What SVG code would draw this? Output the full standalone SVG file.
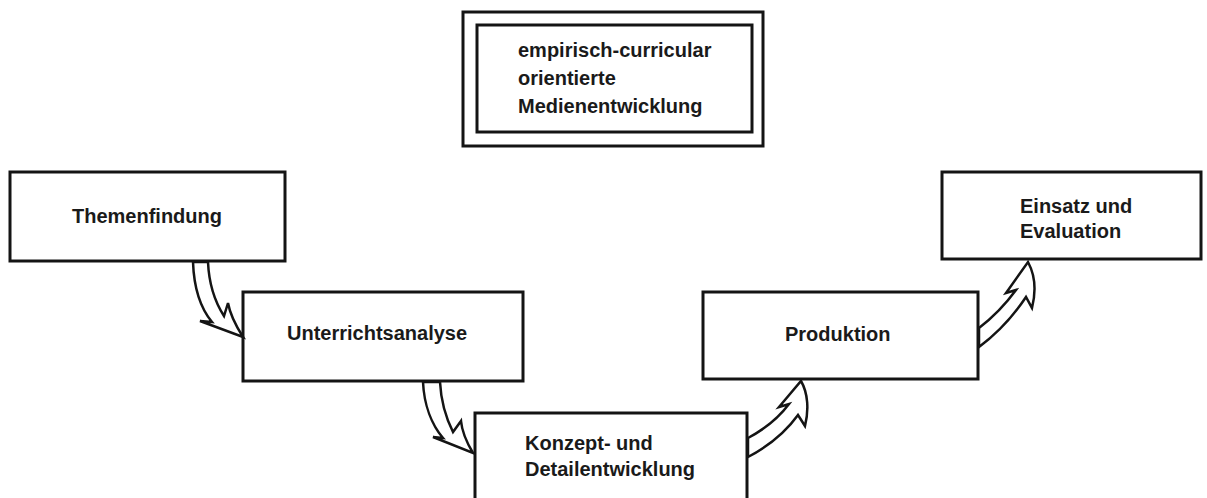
<svg xmlns="http://www.w3.org/2000/svg" width="1207" height="498" viewBox="0 0 1207 498">
<style>
.box{fill:#fff;stroke:#141414;stroke-width:3}
.t{font-family:"Liberation Sans",Arial,sans-serif;font-weight:bold;font-size:20px;fill:#1a1a1a}
.arr{fill:#fff;stroke:#141414;stroke-width:2.5;stroke-linejoin:miter}
</style>
<rect width="1207" height="498" fill="#fff"/>
<g id="title">
<rect class="box" x="463" y="12" width="300" height="134"/>
<rect class="box" x="477" y="25" width="275" height="107"/>
<text class="t" x="518" y="57">empirisch-curricular</text>
<text class="t" x="518" y="85">orientierte</text>
<text class="t" x="518" y="113">Medienentwicklung</text>
</g>
<g id="themenfindung">
<rect class="box" x="10" y="172" width="275" height="89"/>
<text class="t" x="72" y="223">Themenfindung</text>
</g>
<g id="unterrichtsanalyse">
<rect class="box" x="243" y="292" width="280" height="89"/>
<text class="t" x="287" y="340">Unterrichtsanalyse</text>
</g>
<g id="konzept">
<rect class="box" x="475" y="413" width="272" height="100"/>
<text class="t" x="525" y="450">Konzept- und</text>
<text class="t" x="525" y="476">Detailentwicklung</text>
</g>
<g id="produktion">
<rect class="box" x="703" y="292" width="275" height="87"/>
<text class="t" x="785" y="341">Produktion</text>
</g>
<g id="einsatz">
<rect class="box" x="942" y="172" width="259" height="87"/>
<text class="t" x="1020" y="213">Einsatz und</text>
<text class="t" x="1020" y="238">Evaluation</text>
</g>
<g id="connectors">
<path class="arr" d="M193,262 C194,290 202,310 212,322 L200,321 L243,337 C236,326 230,314 228,303 L224,316 C215,302 209,285 208,262 Z"/>
<path class="arr" d="M423,382 C424,405 432,425 443,438 L433,437 L473,453 C467,443 462,432 461,421 L453,432 C446,418 441,402 440,382 Z"/>
<path class="arr" d="M748,438 C763,430 777,420 789,404 L779,407 L801,381 C808,393 809,410 805,426 L798,415 C785,433 767,447 748,457 Z"/>
<path class="arr" d="M979,328 C992,318 1005,305 1016,290 L1006,293 L1028,262 C1035,275 1036,292 1032,308 L1026,297 C1012,318 995,335 979,347 Z"/>
</g>
</svg>
